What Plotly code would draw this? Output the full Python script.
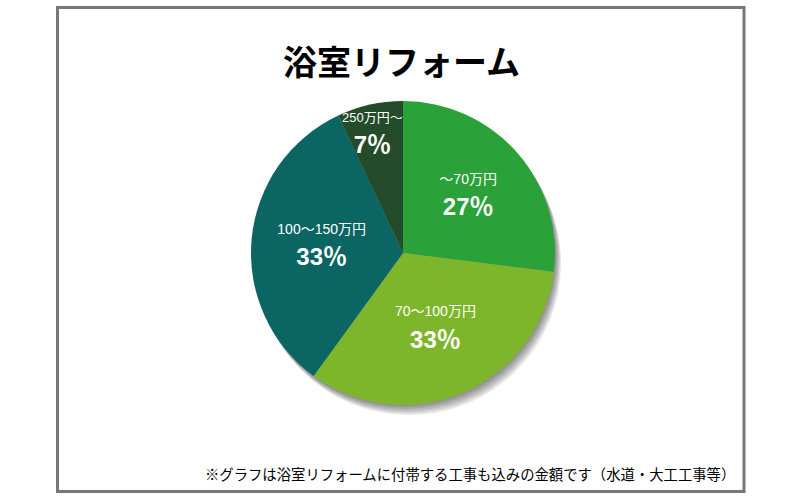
import plotly.graph_objects as go

labels = ["～70万円", "70～100万円", "100～150万円", "250万円～"]
values = [27, 33, 33, 7]
colors = ["#2ba13a", "#7db62a", "#0b6563", "#244b2a"]
title_text = "浴室リフォーム"
note_text = "※グラフは浴室リフォームに付帯する工事も込みの金額です（水道・大工工事等）"

W, H = 800, 500
cx, cy, r = 403, 253, 152
FONT = "Liberation Sans, Arial, Noto Sans CJK JP"

def dom(dx=0, dy=0):
    return dict(x=[(cx - r + dx) / W, (cx + r + dx) / W],
                y=[(H - cy - r - dy) / H, (H - cy + r - dy) / H])

fig = go.Figure()

# soft drop shadow layers
for off in [10, 8, 6, 4, 2]:
    fig.add_trace(go.Pie(values=[1], labels=["s"], domain=dom(off * 0.6, off),
                         marker=dict(colors=["rgba(0,0,0,0.10)"], line=dict(width=0)),
                         textinfo="none", hoverinfo="skip", showlegend=False, sort=False))

def fmt(l, v, small=14):
    return f"<span style='font-size:{small}px'>{l}</span><br><b>{v}％</b>"

# the narrow last slice gets its text as an annotation (pie would shrink it)
texts = [fmt(l, v) for l, v in zip(labels[:-1], values[:-1])] + [""]

fig.add_trace(go.Pie(
    labels=labels, values=values, sort=False, direction="clockwise", rotation=0,
    domain=dom(),
    marker=dict(colors=colors, line=dict(width=0)),
    text=texts, textinfo="text", textposition="inside",
    insidetextorientation="horizontal",
    textfont=dict(color="white", size=24, family=FONT),
    showlegend=False,
))

fig.add_annotation(text=fmt(labels[-1], values[-1], small=13), xref="paper", yref="paper",
                   x=372 / W, y=1 - 134 / H, xanchor="center", yanchor="middle",
                   showarrow=False, font=dict(size=24, color="white", family=FONT))

fig.add_shape(type="rect", xref="paper", yref="paper",
              x0=57.5 / W, x1=744 / W, y0=1 - 491.5 / H, y1=1 - 7.5 / H,
              line=dict(color="#777777", width=3))

fig.add_annotation(text=f"<b>{title_text}</b>", xref="paper", yref="paper",
                   x=402 / W, y=1 - 60 / H, xanchor="center", yanchor="middle", showarrow=False,
                   font=dict(size=34, color="black", family="Noto Sans CJK JP", weight=900))
fig.add_annotation(text=note_text, xref="paper", yref="paper",
                   x=737 / W, y=1 - 473 / H, xanchor="right", yanchor="middle", showarrow=False,
                   font=dict(size=14.35, color="black", family="Noto Sans CJK JP"))

fig.update_layout(width=W, height=H, margin=dict(l=0, r=0, t=0, b=0),
                  paper_bgcolor="white", plot_bgcolor="white")
fig.write_html("out.html")
